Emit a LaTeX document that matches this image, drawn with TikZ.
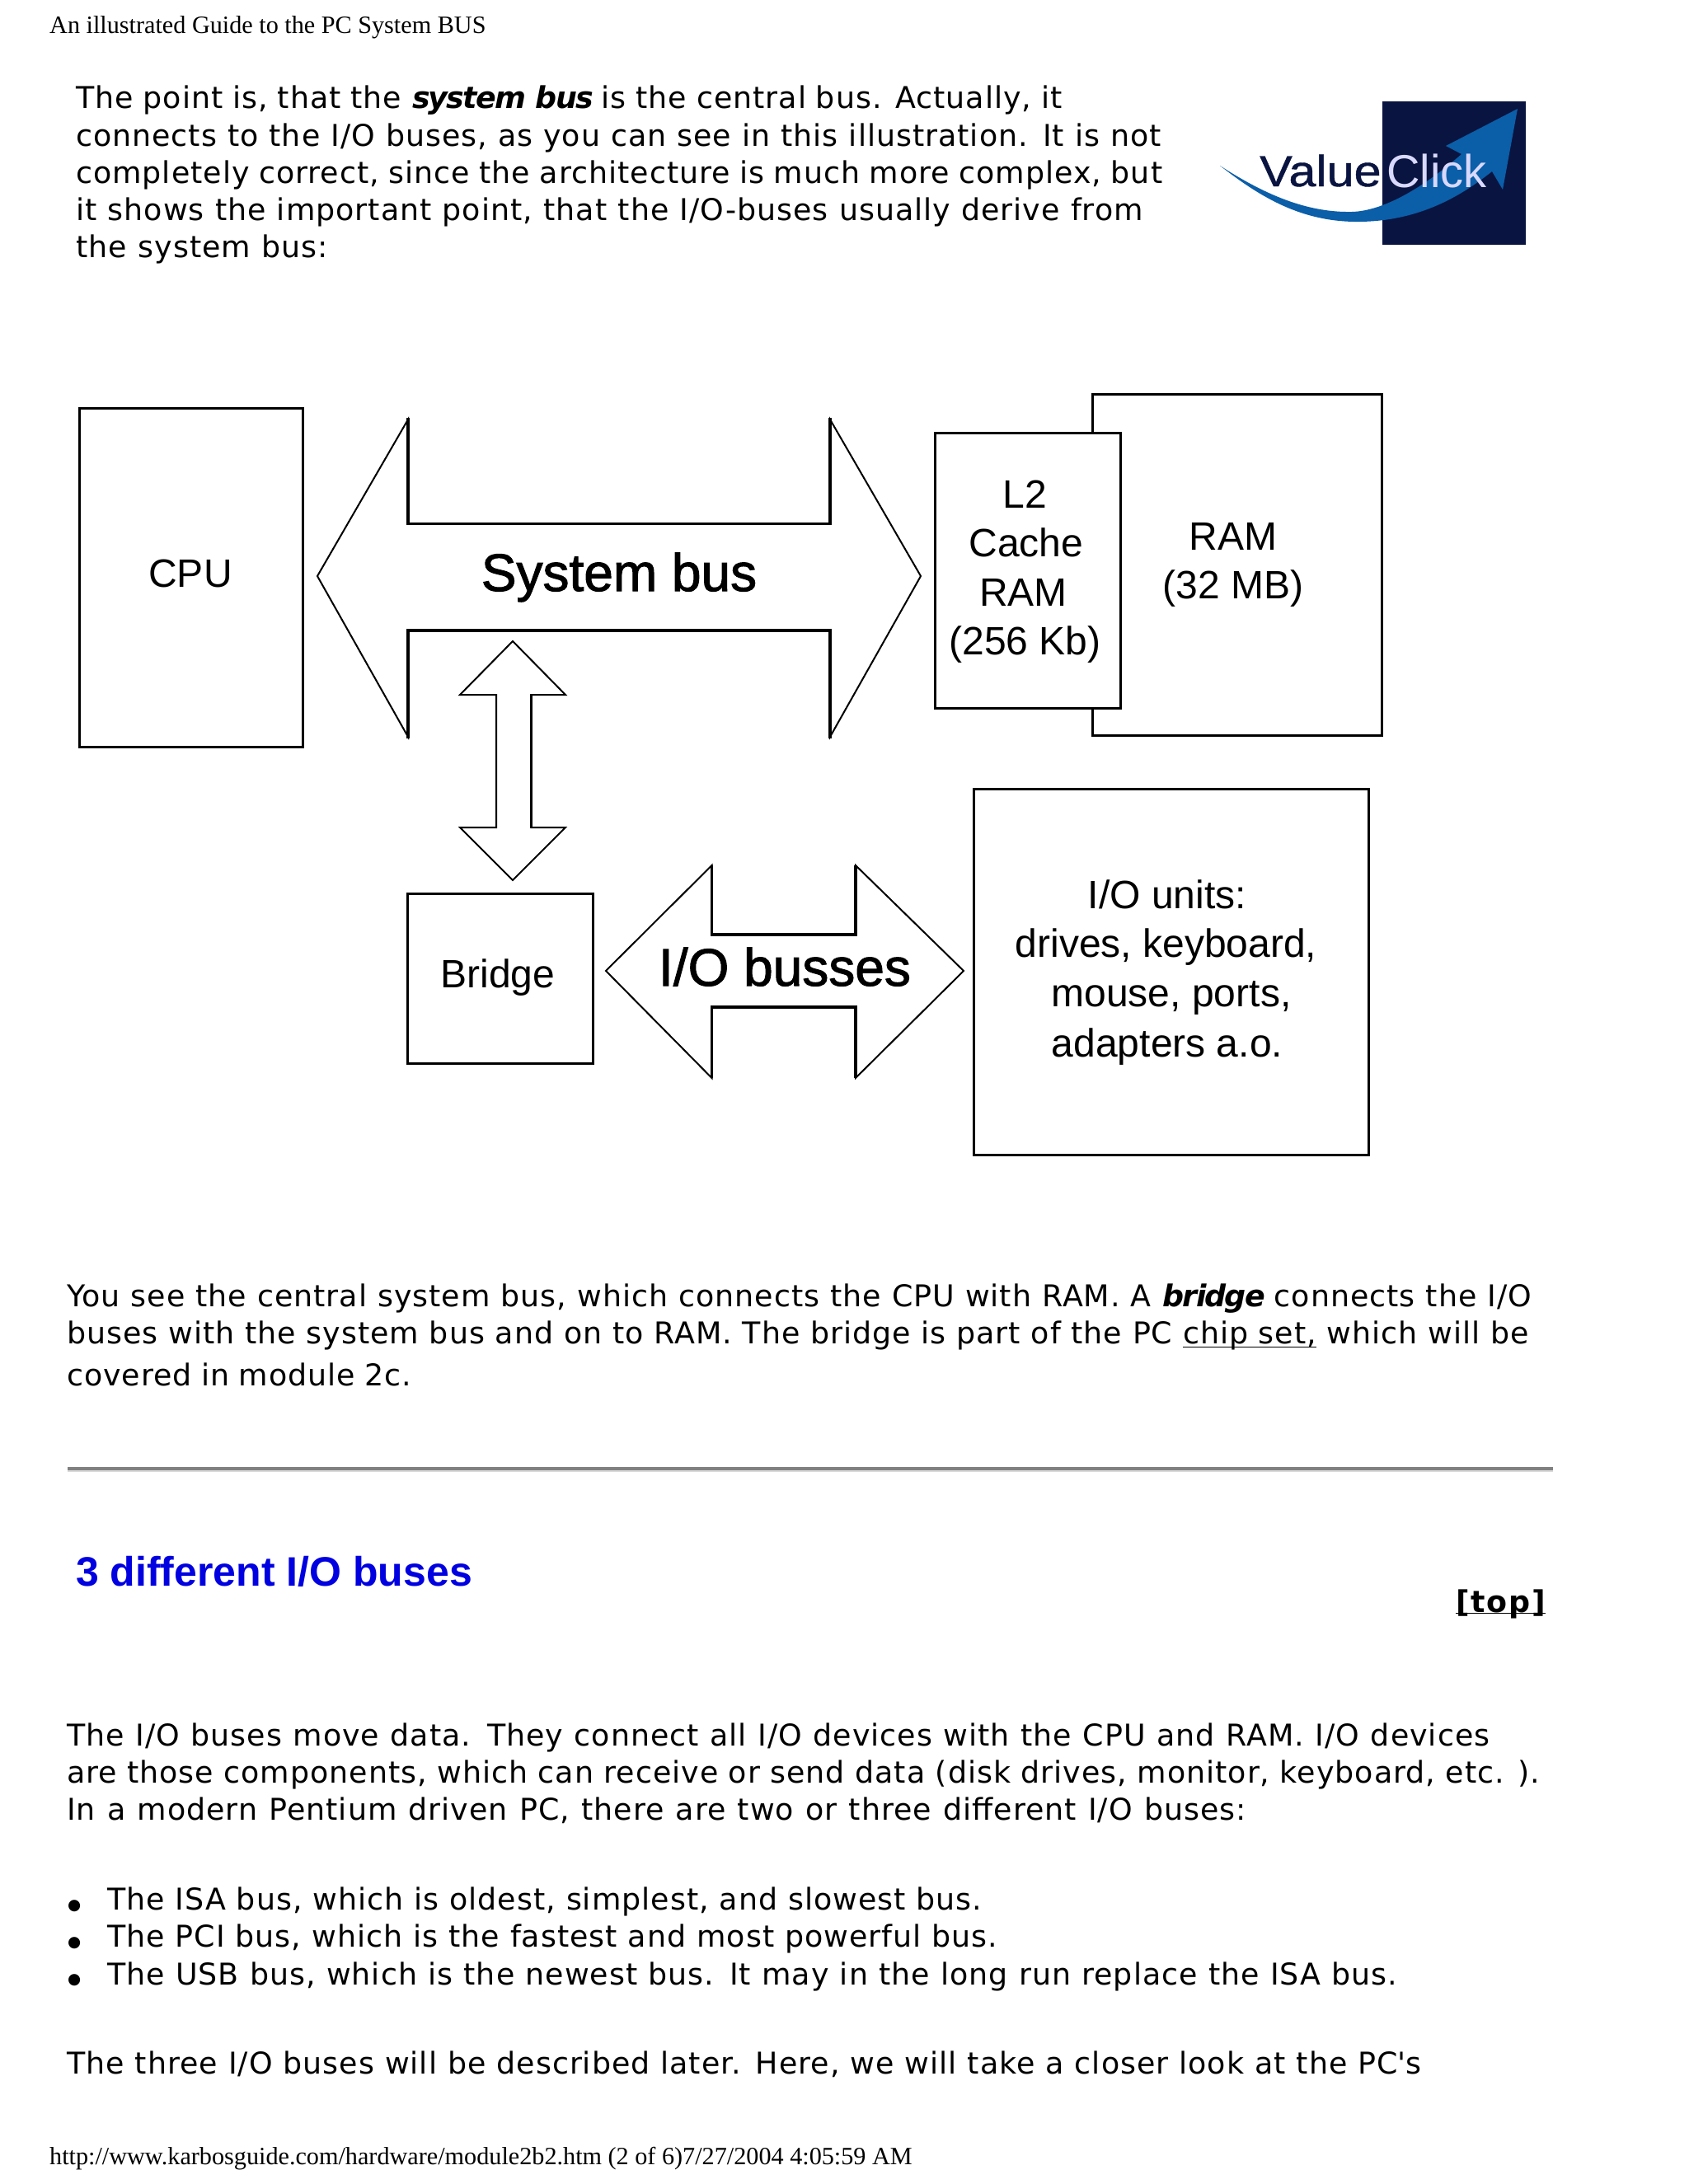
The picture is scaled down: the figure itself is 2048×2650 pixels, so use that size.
\documentclass[tikz,border=0pt]{standalone}
\usepackage{fontspec}
\setmainfont[LetterSpace=2.7,BoldFeatures={LetterSpace=4.6},BoldItalicFeatures={LetterSpace=-5}]{DejaVu Sans}
\newfontfamily\arialf{Liberation Sans}
\newfontfamily\arialfat[FakeBold=1.6]{Liberation Sans}
\newfontfamily\arialvc[FakeBold=0.8]{Liberation Sans}
\newfontfamily\serifpage{Liberation Serif}
\newfontfamily\bulletf{DejaVu Sans}
\definecolor{navy}{HTML}{0A1440}
\definecolor{swoosh}{HTML}{0B5EA8}
\definecolor{linkblue}{HTML}{0000E0}
\newcommand{\fitline}[2]{\hbox to #1pt{\spaceskip=\fontdimen2\font plus 1fil minus 1fil\relax #2}}
\tikzset{
  x=1pt,y=-1pt,
  box/.style={draw=black,line width=3.5pt,fill=white,minimum width=#1,inner sep=0pt,outer sep=0pt},
  busfill/.style={draw=black,line width=2pt,fill=white,line join=miter,miter limit=4},
  busedge/.style={draw=black,line width=3.4pt,line cap=butt},
  body/.style={anchor=base west,inner sep=0pt,font=\fontsize{36.4}{45}\selectfont},
  bullet/.style={anchor=base west,inner sep=0pt,font=\bulletf\fontsize{18.5}{20}\selectfont},
  pageline/.style={anchor=base west,inner sep=0pt,font=\serifpage\fontsize{30.2}{36}\selectfont},
  lab/.style={anchor=base,inner sep=0pt,font=\arialf\fontsize{48}{60}\selectfont},
  buslab/.style={anchor=base,inner sep=0pt,font=\arialfat\fontsize{64}{70}\selectfont},
}
\begin{document}
\begin{tikzpicture}
\useasboundingbox (0,0) rectangle (2048,2650);
\fill[white] (0,0) rectangle (2048,2650);
% page furniture
\node[pageline] (hdr) at (60,40) {An illustrated Guide to the PC System BUS};
\node[pageline] (ftr) at (60,2626) {http://www.karbosguide.com/hardware/module2b2.htm (2 of 6)7/27/2004 4:05:59 AM};
% first paragraph
\node[body] (p1a) at (92,131.7) {\fitline{1196.4}{The point is, that the \textbf{\textit{system bus}} is the central bus. Actually, it}};
\node[body] (p1b) at (92,177) {\fitline{1316.4}{connects to the I/O buses, as you can see in this illustration. It is not}};
\node[body] (p1c) at (92,222) {\fitline{1318}{completely correct, since the architecture is much more complex, but}};
\node[body] (p1d) at (92,267) {\fitline{1294.5}{it shows the important point, that the I/O-buses usually derive from}};
\node[body] (p1e) at (92,312) {\fitline{306}{the system bus:}};
% logo
\fill[navy] (1677,123) rectangle (1851,297);
\fill[swoosh] (1480,201) .. controls (1540,240) and (1590,258) .. (1640,257)
  .. controls (1680,256) and (1730,225) .. (1773,187) -- (1754,177) -- (1841,132)
  -- (1823,230) -- (1810,208) .. controls (1770,240) and (1720,268) .. (1650,269)
  .. controls (1580,270) and (1530,240) .. cycle;
\node[anchor=base west,inner sep=0pt,text=navy,xscale=1.12,font=\arialvc\fontsize{53}{60}\selectfont] (vc1) at (1528,226) {Value};
\node[anchor=base west,inner sep=0pt,text=white!85!blue,font=\arialf\fontsize{56}{60}\selectfont] (vc2) at (1682,227) {Click};
% boxes
\node[box=271pt,minimum height=411pt] (cpu) at (232,701) {};
\node[box=351pt,minimum height=414pt] (ram) at (1501,685.5) {};
\node[box=225pt,minimum height=334pt] (l2) at (1247,692.5) {};
\node[box=225pt,minimum height=206pt] (bridge) at (607,1187.5) {};
\node[box=479pt,minimum height=444pt] (iou) at (1421,1179.5) {};
% system bus arrow
\draw[busfill] (385,699) -- (495,509) -- (495,635.5) -- (1007,635.5) -- (1007,509) -- (1117,699)
  -- (1007,894) -- (1007,765) -- (495,765) -- (495,894) -- cycle;
\draw[busedge] (495,507) -- (495,635.5) -- (1007,635.5) -- (1007,507);
\draw[busedge] (495,896) -- (495,765) -- (1007,765) -- (1007,896);
% bridge arrow
\draw[busfill] (622,778) -- (686,843) -- (644.5,843) -- (644.5,1004) -- (686,1004) -- (622,1068)
  -- (558,1004) -- (602,1004) -- (602,843) -- (558,843) -- cycle;
\draw[busedge,line width=2.8pt] (558,843) -- (602,843) -- (602,1004) -- (558,1004);
\draw[busedge,line width=2.8pt] (686,843) -- (644.5,843) -- (644.5,1004) -- (686,1004);
% I/O bus arrow
\draw[busfill] (735,1178) -- (863.5,1050) -- (863.5,1134) -- (1038,1134) -- (1038,1050) -- (1169,1178)
  -- (1038,1308) -- (1038,1222) -- (863.5,1222) -- (863.5,1308) -- cycle;
\draw[busedge] (863.5,1050) -- (863.5,1134) -- (1038,1134) -- (1038,1050);
\draw[busedge] (863.5,1308) -- (863.5,1222) -- (1038,1222) -- (1038,1308);
% diagram labels
\node[lab] (tcpu) at (231,712.5) {CPU};
\node[buslab] (tsys) at (751,717) {System bus};
\node[lab] (tbridge) at (604,1198) {Bridge};
\node[buslab] (tio) at (952,1196) {I/O busses};
\node[lab] (tl2a) at (1243,616) {L2};
\node[lab] (tl2b) at (1245,675.5) {Cache};
\node[lab] (tl2c) at (1241.5,735.5) {RAM};
\node[lab] (tl2d) at (1243.5,794) {(256 Kb)};
\node[lab] (trama) at (1496,667) {RAM};
\node[lab] (tramb) at (1496,726) {(32 MB)};
\node[lab] (tioa) at (1416,1102) {I/O units:};
\node[lab] (tiob) at (1414.5,1161) {drives, keyboard,};
\node[lab] (tioc) at (1421,1221) {mouse, ports,};
\node[lab] (tiod) at (1416,1282) {adapters a.o.};
% second paragraph
\node[body] (p2a) at (81,1585) {\fitline{1777}{You see the central system bus, which connects the CPU with RAM. A \textbf{\textit{bridge}} connects the I/O}};
\node[body] (p2b) at (81,1630) {\fitline{1773.5}{buses with the system bus and on to RAM. The bridge is part of the PC \underline{\smash{chip set,}\rule[-3pt]{0pt}{1pt}} which will be}};
\node[body] (p2c) at (81,1681) {\fitline{418}{covered in module 2c.}};
% rule
\fill[black!50] (81.5,1780) rectangle (1884,1784);
\fill[black!15] (81.5,1784) rectangle (1884,1786);
% heading
\node[anchor=base west,inner sep=0pt,text=linkblue,font=\arialf\bfseries\fontsize{50}{56}\selectfont] (head) at (92,1924) {3 different I/O buses};
\node[anchor=base east,inner sep=0pt,font=\bfseries\fontsize{36.4}{45}\selectfont] (top) at (1875,1956) {\underline{\smash{[top]}}};
% third paragraph
\node[body] (p3a) at (81,2118) {\fitline{1726}{The I/O buses move data. They connect all I/O devices with the CPU and RAM. I/O devices}};
\node[body] (p3b) at (81,2163) {\fitline{1787}{are those components, which can receive or send data (disk drives, monitor, keyboard, etc. ).}};
\node[body] (p3c) at (81,2208) {\fitline{1430.5}{In a modern Pentium driven PC, there are two or three different I/O buses:}};
% list
\node[bullet] (b1) at (82,2317.5) {●};
\node[bullet] (b2) at (82,2362.5) {●};
\node[bullet] (b3) at (82,2407.5) {●};
\node[body] (l1) at (130,2317) {\fitline{1061}{The ISA bus, which is oldest, simplest, and slowest bus.}};
\node[body] (l2t) at (130,2362.5) {\fitline{1080}{The PCI bus, which is the fastest and most powerful bus.}};
\node[body] (l3) at (130,2408) {\fitline{1565}{The USB bus, which is the newest bus. It may in the long run replace the ISA bus.}};
\node[body] (p4) at (81,2516.7) {\fitline{1643.5}{The three I/O buses will be described later. Here, we will take a closer look at the PC\textquotesingle s}};
\end{tikzpicture}
\end{document}
